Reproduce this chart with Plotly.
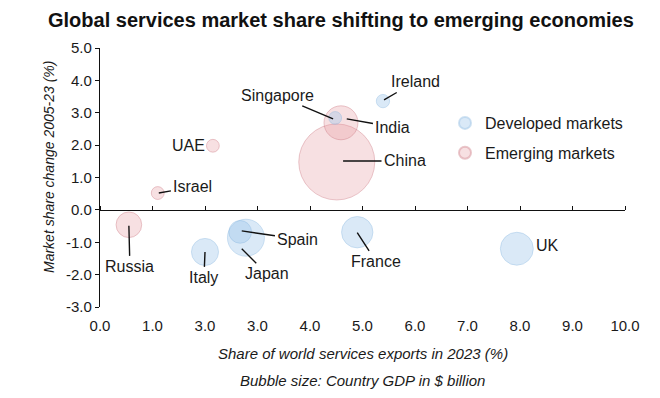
import plotly.graph_objects as go

# ---- data ----
dev_names = ["Ireland", "Singapore", "Italy", "Japan", "Spain", "France", "UK"]
dev_share = [5.39, 4.48, 2.00, 2.78, 2.67, 4.90, 7.94]
dev_change = [3.36, 2.84, -1.30, -0.86, -0.68, -0.69, -1.20]
dev_gdp = [545, 501, 2255, 4213, 1581, 3031, 3340]

em_names = ["China", "India", "UAE", "Israel", "Russia"]
em_share = [4.51, 4.59, 2.15, 1.10, 0.55]
em_change = [1.48, 2.69, 1.98, 0.52, -0.46]
em_gdp = [17795, 3550, 504, 510, 2021]

x_tickvals = [0, 1, 2, 3, 4, 5, 6, 7, 8, 9, 10]
x_ticktext = ["0.0", "1.0", "3.0", "3.0", "4.0", "5.0", "6.0", "7.0", "8.0", "9.0", "10.0"]
y_tickvals = [-3, -2, -1, 0, 1, 2, 3, 4, 5]
y_ticktext = ["-3.0", "-2.0", "-1.0", "0.0", "1.0", "2.0", "3.0", "4.0", "5.0"]

# label placements: (name, text_x, text_y, tip_x, tip_y) ; tip None -> no leader
labels = [
    ("Ireland", 6.00, 3.95, 5.41, 3.40),
    ("Singapore", 3.38, 3.53, 4.44, 2.81),
    ("India", 5.58, 2.56, 4.70, 2.81),
    ("China", 5.81, 1.51, 4.63, 1.51),
    ("UAE", 1.68, 1.98, None, None),
    ("Israel", 1.77, 0.71, 1.12, 0.52),
    ("Russia", 0.57, -1.76, 0.55, -0.49),
    ("Italy", 1.98, -2.10, 2.00, -1.30),
    ("Japan", 3.18, -1.98, 2.70, -1.20),
    ("Spain", 3.77, -0.90, 2.70, -0.65),
    ("France", 5.26, -1.60, 4.90, -0.70),
    ("UK", 8.52, -1.11, None, None),
]

FONT = "Liberation Sans, Arial, sans-serif"
TXT = "#1a1a1a"

L, R, T, B, W, H = 100, 35, 48, 91, 660, 398
pw, ph = W - L - R, H - T - B


def px_x(v):
    return (v - L) / pw


def px_y(v):
    return (H - B - v) / ph


max_radius_px = 38
sizeref = max(em_gdp + dev_gdp) / (2 * max_radius_px ** 2)

fig = go.Figure()
fig.add_trace(go.Scatter(
    x=em_share, y=em_change, text=em_names, mode="markers",
    name="Emerging markets", legendgroup="em", legendrank=2,
    marker=dict(size=em_gdp, sizemode="area", sizeref=sizeref,
                color="rgba(232,150,158,0.42)",
                line=dict(color="rgba(200,110,120,0.55)", width=1)),
    hoverinfo="text",
))
fig.add_trace(go.Scatter(
    x=dev_share, y=dev_change, text=dev_names, mode="markers",
    name="Developed markets", legendgroup="dev", legendrank=1,
    marker=dict(size=dev_gdp, sizemode="area", sizeref=sizeref,
                color="rgba(155,198,235,0.52)",
                line=dict(color="rgba(130,178,222,0.55)", width=1)),
    hoverinfo="text",
))
# dummy trace for the zero-line axis with upward ticks
fig.add_trace(go.Scatter(x=[None], y=[None], xaxis="x2", yaxis="y",
                         showlegend=False, hoverinfo="skip"))

annotations = []
for name, tx, ty, px, py in labels:
    if px is None:
        annotations.append(dict(x=tx, y=ty, xref="x", yref="y", text=name,
                                xanchor="center", yanchor="middle",
                                showarrow=False, font=dict(family=FONT, size=16, color=TXT)))
    else:
        annotations.append(dict(x=px, y=py, xref="x", yref="y", ax=tx, ay=ty,
                                axref="x", ayref="y", text=name, showarrow=True,
                                arrowhead=0, arrowwidth=1.4, arrowcolor="#111111",
                                standoff=0, startstandoff=1,
                                font=dict(family=FONT, size=16, color=TXT)))

annotations += [
    dict(x=0.5, y=px_y(353), xref="paper", yref="paper",
         text="<i>Share of world services exports in 2023 (%)</i>",
         xanchor="center", yanchor="middle",
         showarrow=False, font=dict(family=FONT, size=15, color=TXT)),
    dict(x=0.5, y=px_y(381), xref="paper", yref="paper",
         text="<i>Bubble size: Country GDP in $ billion</i>",
         xanchor="center", yanchor="middle",
         showarrow=False, font=dict(family=FONT, size=15, color=TXT)),
    dict(x=px_x(49), y=px_y(167), xref="paper", yref="paper",
         text="<i>Market share change 2005-23 (%)</i>",
         xanchor="center", yanchor="middle",
         textangle=-90, showarrow=False, font=dict(family=FONT, size=14, color=TXT)),
]

fig.update_layout(
    width=W, height=H,
    margin=dict(l=L, r=R, t=T, b=B),
    paper_bgcolor="white", plot_bgcolor="white",
    title=dict(text="<b>Global services market share shifting to emerging economies</b>",
               x=48 / W, xanchor="left", xref="container",
               y=1 - 20 / H, yanchor="middle", yref="container",
               font=dict(family=FONT, size=20, color="#111111")),
    xaxis=dict(range=[0, 10], tickvals=x_tickvals, ticktext=x_ticktext,
               showline=False, showgrid=False, zeroline=False,
               ticks="outside", ticklen=5, tickcolor="rgba(0,0,0,0)",
               tickfont=dict(family=FONT, size=15, color=TXT), fixedrange=True),
    xaxis2=dict(range=[0, 10], overlaying="x", anchor="free", position=3 / 8,
                side="top", tickvals=x_tickvals, showticklabels=False,
                showline=True, linecolor="#111111", linewidth=1.2,
                ticks="outside", ticklen=4, tickcolor="#111111", tickwidth=1,
                showgrid=False, zeroline=False),
    yaxis=dict(range=[-3, 5], tickvals=y_tickvals, ticktext=y_ticktext,
               showline=True, linecolor="#111111", linewidth=1.2,
               ticks="outside", ticklen=4, tickcolor="#111111",
               showgrid=False, zeroline=False,
               tickfont=dict(family=FONT, size=15, color=TXT)),
    legend=dict(x=px_x(445), y=px_y(106), xanchor="left", yanchor="top",
                font=dict(family=FONT, size=16, color=TXT),
                itemsizing="constant", tracegroupgap=6,
                bgcolor="rgba(0,0,0,0)", itemwidth=30),
    showlegend=True,
    annotations=annotations,
)

fig.write_html("out.html", config={"displayModeBar": False},
               post_script="document.body.style.margin='0';")
